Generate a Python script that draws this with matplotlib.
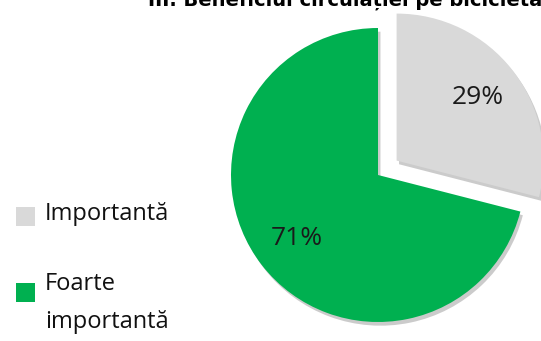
import matplotlib.pyplot as plt
from matplotlib.patches import Rectangle

title = "III. Beneficiul circulației pe bicicletă"
labels = ["Importantă", "Foarte\nimportantă"]
values = [29, 71]
colors = ["#d9d9d9", "#00b050"]

W, H = 541, 341
fig = plt.figure(figsize=(W / 100, H / 100), dpi=100)

# pie centre at (378, 175) px from top-left, radius 147 px
r = 147
cx, cy = 378, H - 175
ax = fig.add_axes([0, 0, 1, 1])
wedges, texts, autotexts = ax.pie(
    values, colors=colors, startangle=90, counterclock=False,
    explode=[0.16, 0], autopct="%.0f%%", pctdistance=0.7,
    shadow={"ox": 0.012, "oy": -0.018, "facecolor": "#8c8c8c",
            "edgecolor": "none", "alpha": 0.45},
    wedgeprops={"linewidth": 0},
    textprops={"fontsize": 19, "color": "#1a1a1a",
               "family": ["Open Sans", "DejaVu Sans"]},
)
ax.set_xlim(-cx / r, (W - cx) / r)
ax.set_ylim(-cy / r, (H - cy) / r)
ax.axis("off")

fig.text(148 / W, 1 - 6 / H, title, fontsize=14, fontweight="bold",
         family="DejaVu Sans", va="baseline", ha="left")

# legend: colour square + label lines, first line level with the square
rows = [(207, 220), (283, 290)]
line_gap = 38
for (top, base), lab, col in zip(rows, labels, colors):
    fig.patches.append(Rectangle((16 / W, 1 - (top + 19) / H), 19 / W, 19 / H,
                                 transform=fig.transFigure, facecolor=col,
                                 edgecolor="none"))
    for i, line in enumerate(lab.split("\n")):
        fig.text(45 / W, 1 - (base + i * line_gap) / H, line, fontsize=17,
                 va="baseline", ha="left", color="#111111",
                 family=["Open Sans", "DejaVu Sans"])

fig.savefig("out.png", dpi=100)
